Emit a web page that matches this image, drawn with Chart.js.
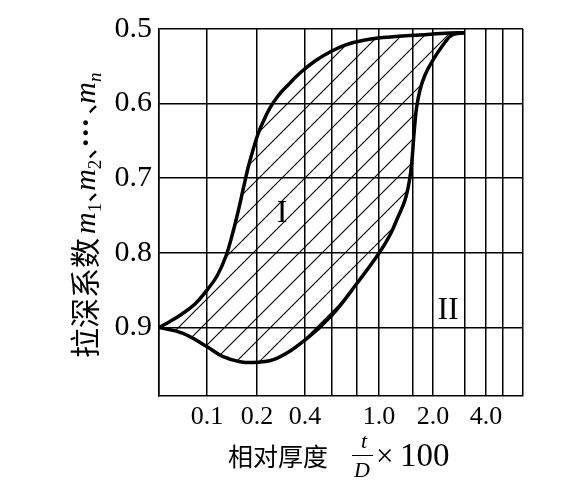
<!DOCTYPE html>
<html><head><meta charset="utf-8">
<script src="https://cdn.jsdelivr.net/npm/chart.js@4/dist/chart.umd.min.js"></script>
<style>html,body{margin:0;padding:0;background:#fff}</style>
</head><body>
<canvas id="c" width="571" height="484"></canvas>
<script>
// ---------- data ----------
const X_TICKS  = [0.05, 0.1, 0.2, 0.4, 0.6, 0.8, 1.0, 1.5, 2.0, 3.0, 4.0, 5.0, 7.0];
const X_LABELS = ['', '0.1', '0.2', '0.4', '', '', '1.0', '', '2.0', '', '4.0', '', ''];
const Y_TICKS  = [0.5, 0.6, 0.7, 0.8, 0.9];
const Y_LABELS = ['0.5', '0.6', '0.7', '0.8', '0.9'];

// boundary I (upper / left curve)
const UPPER_X = [0.05, 0.0586, 0.0697, 0.0841, 0.1, 0.1149, 0.1301, 0.1434, 0.1537, 0.1647, 0.1765, 0.1892, 0.2029, 0.2181, 0.2413, 0.2708, 0.313, 0.372, 0.465, 0.582, 0.697, 0.868, 1.14, 1.659, 2.481, 3.0];
const UPPER_Y = [0.9, 0.892, 0.882, 0.8687, 0.85, 0.8311, 0.8043, 0.7721, 0.7453, 0.7158, 0.6864, 0.6622, 0.6408, 0.6247, 0.6059, 0.5898, 0.5751, 0.559, 0.5429, 0.5308, 0.5215, 0.5147, 0.5107, 0.508, 0.5054, 0.505];
// boundary II (lower / right curve)
const LOWER_X = [0.05, 0.0707, 0.1, 0.125, 0.158, 0.199, 0.266, 0.4, 0.6, 0.8, 1.0, 1.14, 1.254, 1.364, 1.439, 1.482, 1.511, 1.544, 1.582, 1.659, 1.783, 2.0, 2.27, 2.545, 3.0];
const LOWER_Y = [0.9, 0.908, 0.926, 0.9393, 0.946, 0.9468, 0.9415, 0.917, 0.8834, 0.8409, 0.8007, 0.7762, 0.752, 0.7293, 0.7024, 0.6756, 0.6488, 0.6247, 0.6042, 0.5818, 0.5617, 0.5416, 0.5215, 0.508, 0.505];

const REGION_NAMES = ['I', 'II'];
const REGION_X = [0.287, 2.42];
const REGION_Y = [0.748, 0.877];

const Y_TITLE_CJK = '拉深系数';
const X_TITLE_CJK = '相对厚度';

// ---------- hand-drawn (non-uniform log-like) x axis ----------
const X_KNOT_FRAC = [0, 48, 98, 146, 173, 198, 220, 254, 274, 306, 327, 344, 364].map(p => p / 364);
function xDecimal(v) {
  const K = X_TICKS, F = X_KNOT_FRAC;
  if (v <= K[0]) return F[0];
  for (let i = 0; i < K.length - 1; i++) {
    if (v <= K[i + 1]) {
      const t = Math.log(v / K[i]) / Math.log(K[i + 1] / K[i]);
      return F[i] + t * (F[i + 1] - F[i]);
    }
  }
  return F[F.length - 1];
}
function xValue(d) {
  const K = X_TICKS, F = X_KNOT_FRAC;
  for (let i = 0; i < K.length - 1; i++) {
    if (d <= F[i + 1]) {
      const t = (d - F[i]) / (F[i + 1] - F[i]);
      return K[i] * Math.pow(K[i + 1] / K[i], t);
    }
  }
  return K[K.length - 1];
}
class HandLogScale extends Chart.LinearScale {
  getPixelForValue(v) { return this.getPixelForDecimal(xDecimal(v)); }
  getValueForPixel(p) { return xValue(this.getDecimalForPixel(p)); }
}
HandLogScale.id = 'handlog';
HandLogScale.defaults = Chart.LinearScale.defaults;
Chart.register(HandLogScale);

// ---------- hatch pattern ----------
function makeHatch(s) {
  const c = document.createElement('canvas');
  c.width = s; c.height = s;
  const g = c.getContext('2d');
  g.strokeStyle = '#000'; g.lineWidth = 1.1;
  g.beginPath();
  g.moveTo(0, s); g.lineTo(s, 0);
  g.moveTo(-s / 2, s / 2); g.lineTo(s / 2, -s / 2);
  g.moveTo(s / 2, s * 1.5); g.lineTo(s * 1.5, s / 2);
  g.stroke();
  return g.createPattern(c, 'repeat');
}

const SERIF = '"Liberation Serif", "DejaVu Serif", serif';
const CJK = '"Noto Sans CJK SC", sans-serif';

// ---------- text plugin ----------
const textPlugin = {
  id: 'texts',
  afterDatasetsDraw(chart) {
    const ctx = chart.ctx, xs = chart.scales.x, ys = chart.scales.y;
    ctx.save();
    ctx.fillStyle = '#000';
    ctx.textAlign = 'center'; ctx.textBaseline = 'middle';
    ctx.font = '32px ' + SERIF;
    REGION_NAMES.forEach((n, i) => {
      ctx.fillText(n, xs.getPixelForValue(REGION_X[i]), ys.getPixelForValue(REGION_Y[i]));
    });
    ctx.restore();
  },
  afterDraw(chart) {
    const ctx = chart.ctx, a = chart.chartArea;
    ctx.save();
    ctx.fillStyle = '#000';
    ctx.strokeStyle = '#000';
    ctx.textBaseline = 'alphabetic';
    ctx.textAlign = 'left';
    // y title, rotated, reading bottom to top
    const yp = [
      { t: Y_TITLE_CJK, f: '30px ' + CJK, dy: 1 },
      { t: ' ', f: '30px ' + CJK, adv: 4 },
      { t: 'm', f: 'italic 30px ' + SERIF },
      { t: '1', f: '19px ' + SERIF, dy: 6 },
      { t: '、', f: '28px ' + CJK, adv: 12 },
      { t: 'm', f: 'italic 30px ' + SERIF },
      { t: '2', f: '19px ' + SERIF, dy: 6 },
      { t: '、', f: '28px ' + CJK, adv: 12 },
      { t: '·', f: 'bold 30px ' + SERIF, adv: 10 },
      { t: '·', f: 'bold 30px ' + SERIF, adv: 10 },
      { t: '·', f: 'bold 30px ' + SERIF, adv: 13 },
      { t: '、', f: '28px ' + CJK, adv: 11 },
      { t: 'm', f: 'italic 30px ' + SERIF },
      { t: 'n', f: 'italic 19px ' + SERIF, dy: 6 }
    ];
    ctx.translate(a.left - 64, 358);
    ctx.rotate(-Math.PI / 2);
    let cx = 0;
    yp.forEach(p => {
      ctx.font = p.f;
      ctx.fillText(p.t, cx, p.dy || 0);
      cx += p.adv !== undefined ? p.adv : ctx.measureText(p.t).width;
    });
    ctx.setTransform(1, 0, 0, 1, 0, 0);
    // x title
    const base = 466;
    ctx.font = '25px ' + CJK;
    ctx.fillText(X_TITLE_CJK, 228, base);
    ctx.textAlign = 'center';
    ctx.font = 'italic 22px ' + SERIF;
    ctx.fillText('t', 364, 448);
    ctx.fillText('D', 362, 477);
    ctx.lineWidth = 1;
    ctx.beginPath(); ctx.moveTo(352, 455.5); ctx.lineTo(373, 455.5); ctx.stroke();
    ctx.textAlign = 'left';
    ctx.font = '31px ' + SERIF;
    ctx.fillText('×', 376, base);
    ctx.font = '33px ' + SERIF;
    ctx.fillText('100', 400, base);
    ctx.restore();
  }
};

const ctx = document.getElementById('c').getContext('2d');
const hatch = makeHatch(23);
new Chart(ctx, {
  type: 'line',
  data: {
    datasets: [
      {
        data: UPPER_X.map((x, i) => ({ x, y: UPPER_Y[i] })),
        borderColor: '#000', borderWidth: 3.5, pointRadius: 0,
        tension: 0.4,
        fill: '+1', backgroundColor: hatch
      },
      {
        data: LOWER_X.map((x, i) => ({ x, y: LOWER_Y[i] })),
        borderColor: '#000', borderWidth: 3.5, pointRadius: 0,
        tension: 0.4,
        fill: false
      }
    ]
  },
  options: {
    responsive: false, animation: false, devicePixelRatio: 1,
    layout: { padding: { left: 0, top: 29, right: 48, bottom: 0 } },
    plugins: { legend: { display: false }, tooltip: { enabled: false } },
    scales: {
      x: {
        type: 'handlog', min: X_TICKS[0], max: X_TICKS[X_TICKS.length - 1],
        afterBuildTicks: s => { s.ticks = X_TICKS.map(v => ({ value: v })); },
        afterFit: s => { s.height = 88; },
        grid: { color: '#000', lineWidth: 1.5, drawTicks: false },
        border: { color: '#000', width: 1.5 },
        ticks: {
          autoSkip: false, maxRotation: 0, padding: 6, color: '#000',
          font: { family: SERIF, size: 26 },
          callback: (v, i) => X_LABELS[i]
        }
      },
      y: {
        type: 'linear', reverse: true, min: 0.5, max: 0.992,
        afterBuildTicks: s => { s.ticks = Y_TICKS.map(v => ({ value: v })); },
        afterFit: s => { s.width = 159; },
        grid: { color: '#000', lineWidth: 1.5, drawTicks: false },
        border: { color: '#000', width: 1.5 },
        ticks: {
          padding: 7, color: '#000',
          font: { family: SERIF, size: 30 },
          callback: (v, i) => Y_LABELS[i]
        }
      }
    }
  },
  plugins: [textPlugin]
});
</script>
</body></html>
